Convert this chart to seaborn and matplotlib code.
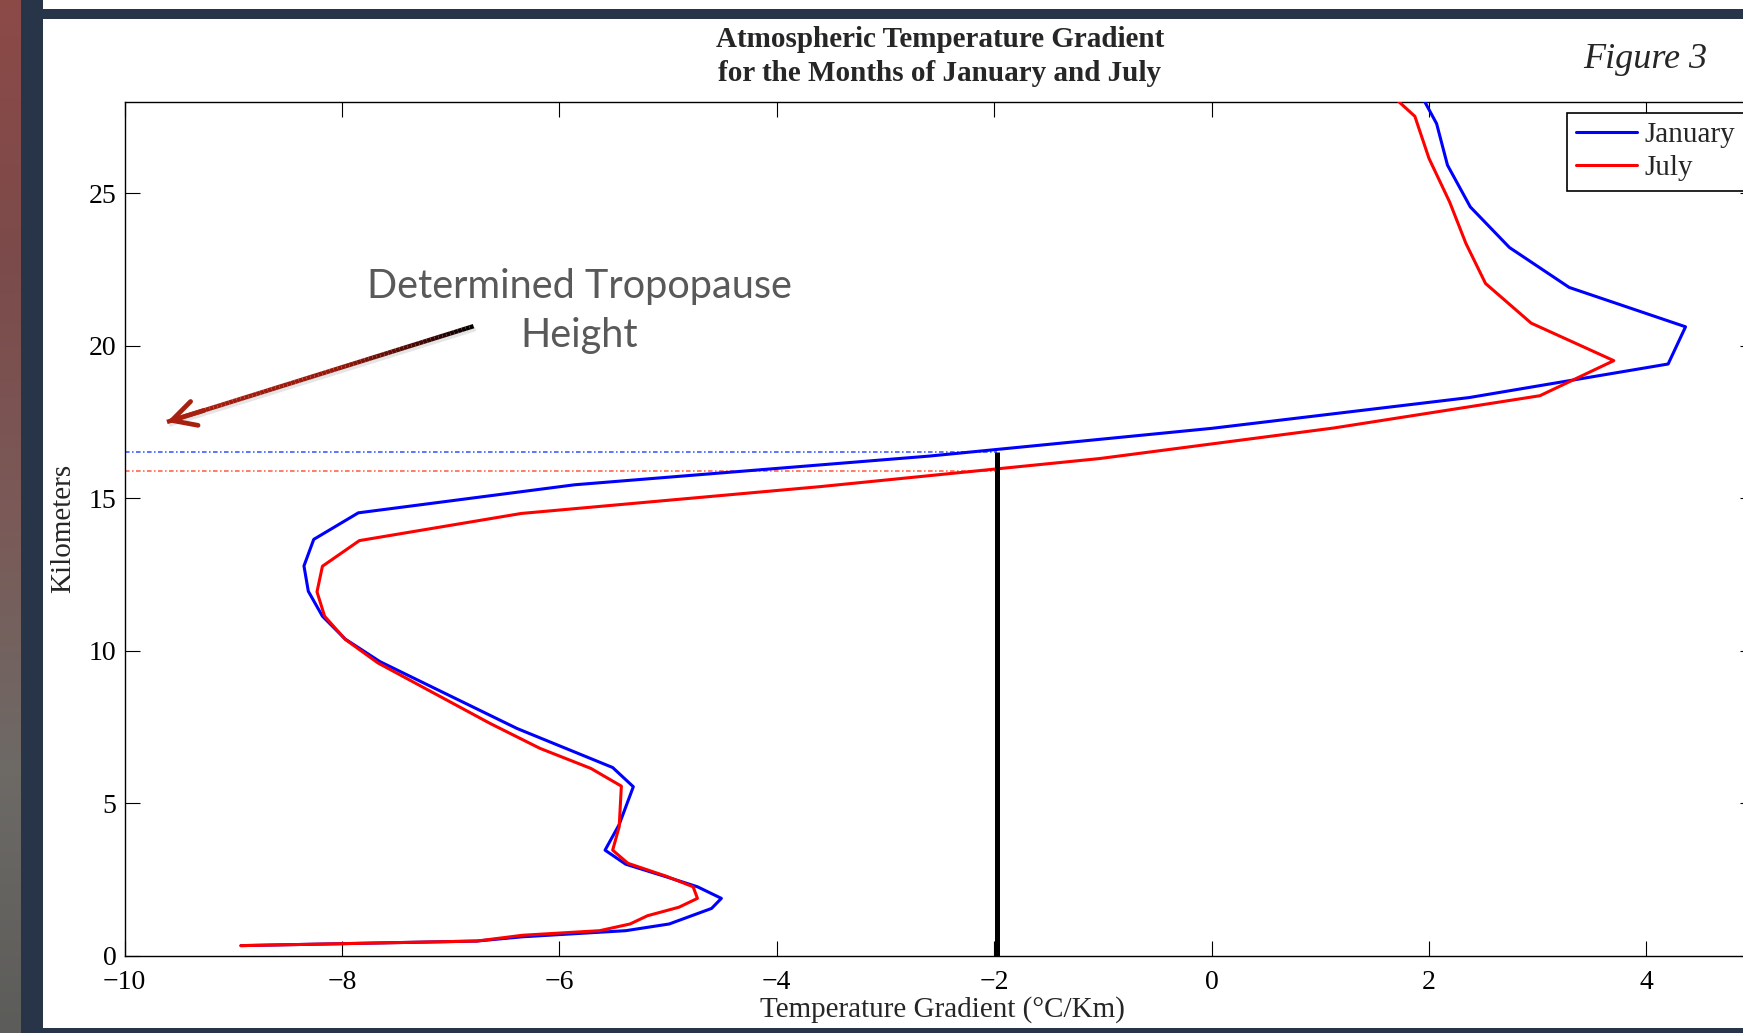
import numpy as np
import pandas as pd
import matplotlib
matplotlib.use("Agg")
import matplotlib.pyplot as plt
import matplotlib.patheffects as pe
import seaborn as sns
from matplotlib.collections import LineCollection
from matplotlib.colors import LinearSegmentedColormap
from matplotlib.patches import Rectangle

# temperature gradient (deg C / km) against height (km)
jan_grad = [-8.93, -6.76, -6.34, -5.39, -4.99, -4.60, -4.51, -4.73, -5.02, -5.39,
            -5.58, -5.45, -5.32, -5.51, -6.39, -7.65, -7.97, -8.18, -8.31, -8.35,
            -8.26, -7.85, -5.86, -2.60, 0.00, 2.37, 4.20, 4.36, 3.29, 2.74,
            2.38, 2.17, 2.07, 1.90]
jan_km = [0.33, 0.48, 0.62, 0.82, 1.04, 1.55, 1.88, 2.26, 2.59, 3.00,
          3.46, 4.30, 5.54, 6.17, 7.45, 9.64, 10.38, 11.13, 11.95, 12.78,
          13.65, 14.52, 15.44, 16.38, 17.29, 18.30, 19.40, 20.62, 21.91, 23.22,
          24.55, 25.92, 27.28, 28.40]

jul_grad = [-8.93, -6.76, -6.34, -5.63, -5.35, -5.19, -4.90, -4.73, -4.77, -5.02,
            -5.37, -5.51, -5.45, -5.43, -5.71, -6.18, -6.64, -7.67, -7.97, -8.16,
            -8.23, -8.18, -7.84, -6.35, -3.60, -1.03, 1.12, 3.02, 3.70, 2.94,
            2.52, 2.34, 2.19, 2.00, 1.87, 1.60]
jul_km = [0.33, 0.48, 0.67, 0.82, 1.04, 1.31, 1.59, 1.88, 2.26, 2.61,
          3.03, 3.46, 4.23, 5.56, 6.14, 6.80, 7.62, 9.60, 10.37, 11.13,
          11.93, 12.77, 13.61, 14.50, 15.38, 16.30, 17.30, 18.36, 19.51, 20.74,
          22.04, 23.35, 24.71, 26.14, 27.52, 28.40]

months = ["January", "July"]
x_ticks = [-10, -8, -6, -4, -2, 0, 2, 4]
y_ticks = [0, 5, 10, 15, 20, 25]

jan_tropopause = 16.52
jul_tropopause = 15.90
threshold = -1.97

df = pd.concat([
    pd.DataFrame({"grad": jan_grad, "km": jan_km, "month": months[0]}),
    pd.DataFrame({"grad": jul_grad, "km": jul_km, "month": months[1]}),
])

sns.set_style("ticks")
plt.rcParams["font.family"] = ["Liberation Serif", "DejaVu Serif"]

W, H = 1743, 1033
fig = plt.figure(figsize=(W / 100, H / 100), dpi=100, facecolor="white")

# slide frame behind the plot
bg = fig.add_axes([0, 0, 1, 1], zorder=-10)
bg.set_xlim(0, W)
bg.set_ylim(H, 0)
bg.axis("off")
navy = "#283549"
photo = LinearSegmentedColormap.from_list(
    "photo", ["#8c4a47", "#7c4b4b", "#7a5a58", "#6d6a66", "#5c5c5a"])
bg.imshow(np.linspace(0, 1, 200).reshape(-1, 1), cmap=photo, aspect="auto",
          extent=(0, 21, H, 0))
bg.add_patch(Rectangle((21, 0), 22, H, color=navy, lw=0))
bg.add_patch(Rectangle((21, 9), W, 10, color=navy, lw=0))
bg.add_patch(Rectangle((21, 1028), W, 6, color=navy, lw=0))

# main axes (right spine falls just outside the picture)
left, right, top, bottom = 124.6, 1755.1, 101.7, 955.7
ax = fig.add_axes([left / W, 1 - bottom / H, (right - left) / W, (bottom - top) / H])

sns.lineplot(data=df, x="grad", y="km", hue="month", hue_order=months,
             palette={"January": "#0000ff", "July": "#ff0000"},
             sort=False, estimator=None, lw=2.2, legend=False, ax=ax, zorder=3)

ax.hlines(jan_tropopause, -10, threshold, color="#3050ff", lw=1.1,
          linestyles=(0, (3, 1.6, 1, 1.6)), zorder=2)
ax.hlines(jul_tropopause, -10, threshold, color="#ff5a3a", lw=1.1,
          linestyles=(0, (3, 1.6, 1, 1.6)), zorder=2)
ax.vlines(threshold, 0, jan_tropopause, color="black", lw=3.6, zorder=4)

ax.set_xlim(-10, 5)
ax.set_ylim(0, 28)
ax.set_xticks(x_ticks)
ax.set_yticks(y_ticks)
ax.tick_params(direction="in", length=11, width=0.8, top=True, right=True,
               labelsize=20, colors="black")
ax.tick_params(axis="x", pad=10)
ax.tick_params(axis="y", pad=6)
for s in ax.spines.values():
    s.set_linewidth(1.0)
    s.set_color("black")

ax.set_xlabel("Temperature Gradient (°C/Km)", fontsize=21, va="baseline")
ax.xaxis.set_label_coords((942 - left) / (right - left), (bottom - 1017) / (bottom - top))
ax.set_ylabel("Kilometers", fontsize=21, va="center")
ax.yaxis.set_label_coords((63 - left) / (right - left), 0.5)

leg = ax.legend(ax.lines[:2], months, loc="upper left",
                bbox_to_anchor=((1566.7 - left) / (right - left), (bottom - 112.7) / (bottom - top)),
                borderaxespad=0, fontsize=21, frameon=True, fancybox=False,
                handlelength=2.1, handletextpad=0.25, borderpad=0.32,
                labelspacing=0.22)
leg.get_frame().set_edgecolor("black")
leg.get_frame().set_linewidth(1.2)
leg.get_frame().set_alpha(1)

# titles
fig.text(940 / W, 1 - 47 / H, "Atmospheric Temperature Gradient",
         ha="center", va="baseline", fontsize=21, fontweight="bold")
fig.text(940 / W, 1 - 81 / H, "for the Months of January and July",
         ha="center", va="baseline", fontsize=21, fontweight="bold")
fig.text(1583 / W, 1 - 68 / H, "Figure 3", ha="left", va="baseline",
         fontsize=26, fontstyle="italic")

# tropopause callout
ax.text(-5.82, 21.56, "Determined Tropopause", family=["Lato", "DejaVu Sans"],
        fontsize=28.5, color="#595959", ha="center", va="baseline")
ax.text(-5.82, 19.95, "Height", family=["Lato", "DejaVu Sans"],
        fontsize=28.5, color="#595959", ha="center", va="baseline")

head = np.array([-9.61, 17.50])
tail = np.array([-6.79, 20.64])
t = np.linspace(0, 1, 80)
pts = head + np.outer(t, tail - head)
segs = np.stack([pts[:-1], pts[1:]], axis=1)
grad_cmap = LinearSegmentedColormap.from_list(
    "arrow", [(0, "#a8200f"), (0.55, "#97180b"), (0.85, "#3a0603"), (1, "#000000")])
lc = LineCollection(segs, colors=grad_cmap(t[:-1]), lw=3.2, capstyle="butt", zorder=5)
lc.set_path_effects([pe.SimpleLineShadow(offset=(1.5, -2), shadow_color="gray", alpha=0.2),
                     pe.Normal()])
ax.add_collection(lc)
ax.annotate("", xy=head, xytext=head + 0.12 * (tail - head),
            arrowprops=dict(arrowstyle="->,head_length=0.85,head_width=0.45",
                            color="#a8200f", lw=3.4, shrinkA=0, shrinkB=0,
                            mutation_scale=20),
            zorder=6)

fig.savefig("out.png", dpi=100)
